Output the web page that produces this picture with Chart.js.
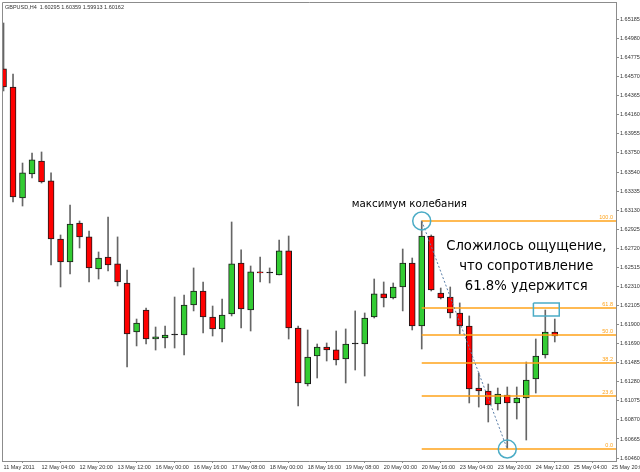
<!DOCTYPE html>
<html>
<head>
<meta charset="utf-8">
<script src="https://cdn.jsdelivr.net/npm/chart.js@4.4.1/dist/chart.umd.min.js"></script>
<style>
  html, body { margin: 0; padding: 0; background: #fff; }
</style>
</head>
<body>
<canvas id="grafico" width="640" height="472"></canvas>
<script>
// GBPUSD H4 - velas
const abertura = [1.64650, 1.64456, 1.63261, 1.63519, 1.63659, 1.63444, 1.62819, 1.62571, 1.62991, 1.62841,
  1.62496, 1.62625, 1.62550, 1.62345, 1.61817, 1.62054, 1.61742, 1.61753, 1.61785, 1.61785,
  1.62108, 1.62259, 1.61979, 1.61850, 1.62011, 1.62560, 1.62054, 1.62464, 1.62453, 1.62431,
  1.62690, 1.61860, 1.61257, 1.61559, 1.61656, 1.61624, 1.61527, 1.61688, 1.61688, 1.61979,
  1.62227, 1.62184, 1.62302, 1.62560, 1.61882, 1.62851, 1.62237, 1.62194, 1.62022, 1.61882,
  1.61214, 1.61182, 1.61042, 1.61139, 1.61053, 1.61106, 1.61311, 1.61570, 1.61817];
const maxima = [1.65145, 1.64596, 1.63637, 1.63745, 1.63756, 1.63530, 1.62862, 1.63185, 1.63013, 1.62905,
  1.62679, 1.63056, 1.62841, 1.62485, 1.61957, 1.62076, 1.61871, 1.61882, 1.62194, 1.62216,
  1.62507, 1.62356, 1.62097, 1.62173, 1.63002, 1.62701, 1.62528, 1.62625, 1.62507, 1.62808,
  1.62851, 1.61882, 1.61839, 1.61688, 1.61699, 1.61828, 1.61850, 1.62044, 1.62022, 1.62388,
  1.62356, 1.62345, 1.62711, 1.62614, 1.63013, 1.62862, 1.62291, 1.62302, 1.62130, 1.61990,
  1.61376, 1.61257, 1.61214, 1.61225, 1.61225, 1.61494, 1.61742, 1.62054, 1.61957];
const minimas = [1.64413, 1.63217, 1.63174, 1.63476, 1.63422, 1.62539, 1.62302, 1.62442, 1.62722, 1.62356,
  1.62388, 1.62474, 1.62313, 1.61440, 1.61667, 1.61688, 1.61623, 1.61645, 1.61645, 1.61570,
  1.62044, 1.61807, 1.61774, 1.61710, 1.61990, 1.61860, 1.61828, 1.62356, 1.62345, 1.62431,
  1.61742, 1.61020, 1.61236, 1.61322, 1.61505, 1.61462, 1.61268, 1.61408, 1.61343, 1.61968,
  1.62087, 1.62173, 1.62044, 1.61839, 1.61634, 1.62259, 1.62173, 1.61968, 1.61796, 1.61053,
  1.61009, 1.60848, 1.60977, 1.60560, 1.60880, 1.60654, 1.61160, 1.61537, 1.61710];
const fechamento = [1.64456, 1.63271, 1.63530, 1.63670, 1.63433, 1.62819, 1.62571, 1.62980, 1.62841, 1.62507,
  1.62614, 1.62539, 1.62356, 1.61796, 1.61914, 1.61742, 1.61764, 1.61785, 1.61785, 1.62108,
  1.62259, 1.61979, 1.61850, 1.62000, 1.62550, 1.62065, 1.62464, 1.62453, 1.62453, 1.62690,
  1.61860, 1.61268, 1.61548, 1.61656, 1.61624, 1.61516, 1.61688, 1.61688, 1.61968, 1.62227,
  1.62184, 1.62302, 1.62560, 1.61882, 1.62851, 1.62270, 1.62184, 1.62022, 1.61882, 1.61203,
  1.61182, 1.61031, 1.61150, 1.61053, 1.61106, 1.61300, 1.61559, 1.61817, 1.61774];

const rotulosTempo = ['11 May 2011', '12 May 04:00', '12 May 20:00', '13 May 12:00', '16 May 00:00',
  '16 May 16:00', '17 May 08:00', '18 May 00:00', '18 May 16:00', '19 May 08:00', '20 May 00:00',
  '20 May 16:00', '23 May 04:00', '23 May 20:00', '24 May 12:00', '25 May 04:00', '25 May 20:00'];

const rotulosPreco = [1.65185, 1.64980, 1.64775, 1.64570, 1.64365, 1.64160, 1.63955, 1.63750, 1.63540,
  1.63335, 1.63130, 1.62925, 1.62720, 1.62515, 1.62310, 1.62105, 1.61900, 1.61690, 1.61485, 1.61280,
  1.61075, 1.60870, 1.60665, 1.60460];

// fibonacci: do topo (vela 45) ao fundo (vela 54)
const fibNomes = ['100.0', '61.8', '50.0', '38.2', '23.6', '0.0'];
const fibPrecos = [1.63013, 1.62077, 1.61786, 1.61484, 1.61128, 1.60557];
const fibInicio = 44;
const topoOnda = { x: 44, y: 1.63013 };
const fundoOnda = { x: 53, y: 1.60557 };
const caixaX = [55.75, 58.47];
const caixaY = [1.62130, 1.61990];

const xMin = -0.16, xMax = 64.44;
const corVela = abertura.map((o, i) => fechamento[i] > o ? '#33cc33' : (fechamento[i] < o ? '#ff0000' : '#000000'));

const fibDatasets = fibPrecos.map(p => ({
  type: 'line',
  data: [{ x: fibInicio, y: p }, { x: xMax, y: p }],
  borderColor: '#ffa31a',
  borderWidth: 1.5,
  pointRadius: 0,
  order: 1
}));

const desenhos = {
  id: 'desenhos',
  afterDatasetsDraw(chart) {
    const c = chart.ctx, a = chart.chartArea, sx = chart.scales.x, sy = chart.scales.y;
    c.save();
    c.strokeStyle = '#8c8c8c';
    c.lineWidth = 1;
    c.beginPath();
    c.moveTo(a.left + 0.5, a.bottom);
    c.lineTo(a.left + 0.5, a.top + 0.5);
    c.lineTo(a.right, a.top + 0.5);
    c.stroke();

    c.font = '5.5px "Liberation Sans"';
    c.fillStyle = '#ffa31a';
    c.textAlign = 'right';
    c.textBaseline = 'bottom';
    fibPrecos.forEach((p, k) => c.fillText(fibNomes[k], a.right - 3, sy.getPixelForValue(p) - 1));

    c.fillStyle = '#333';
    c.textAlign = 'left';
    c.textBaseline = 'middle';
    c.fillText('GBPUSD,H4  1.60295 1.60359 1.59913 1.60162', 5, 7);

    c.fillStyle = '#000';
    c.textAlign = 'center';
    c.font = '10.3px "DejaVu Sans"';
    c.fillText('максимум колебания', sx.getPixelForValue(42.7), sy.getPixelForValue(1.63196));

    c.font = '13.2px "DejaVu Sans"';
    const cx = sx.getPixelForValue(55.0);
    c.fillText('Сложилось ощущение,', cx, sy.getPixelForValue(1.62733));
    c.fillText('что сопротивление', cx, sy.getPixelForValue(1.62517));
    c.fillText('61.8% удержится', cx, sy.getPixelForValue(1.62302));
    c.restore();
  }
};

const grafico = new Chart(document.getElementById('grafico'), {
  type: 'bar',
  data: {
    datasets: [
      {
        type: 'scatter',
        data: [topoOnda, fundoOnda],
        pointRadius: 9,
        pointBorderWidth: 1.5,
        pointBorderColor: '#4bacc6',
        pointBackgroundColor: 'rgba(0,0,0,0)',
        showLine: false,
        order: 0
      },
      {
        type: 'line',
        data: [topoOnda, fundoOnda],
        borderColor: '#5b7fa8',
        borderWidth: 1,
        borderDash: [2, 2],
        pointRadius: 0,
        order: 0
      },
      {
        type: 'line',
        data: [
          { x: caixaX[0], y: caixaY[0] }, { x: caixaX[1], y: caixaY[0] },
          { x: caixaX[1], y: caixaY[1] }, { x: caixaX[0], y: caixaY[1] },
          { x: caixaX[0], y: caixaY[0] }
        ],
        borderColor: '#4bacc6',
        borderWidth: 1.5,
        pointRadius: 0,
        order: 0
      },
      ...fibDatasets,
      {
        data: abertura.map((o, i) => ({ x: i, y: [o, fechamento[i]] })),
        backgroundColor: corVela,
        borderColor: '#1a1a1a',
        borderWidth: 1,
        borderSkipped: false,
        barThickness: 6,
        minBarLength: 1,
        grouped: false,
        order: 2
      },
      {
        data: minimas.map((l, i) => ({ x: i, y: [l, maxima[i]] })),
        backgroundColor: '#666',
        borderWidth: 0,
        barThickness: 1,
        grouped: false,
        order: 3
      }
    ]
  },
  options: {
    responsive: false,
    animation: false,
    layout: { autoPadding: false, padding: { left: 2, top: 2, right: 0, bottom: 0 } },
    plugins: { legend: { display: false }, tooltip: { enabled: false } },
    scales: {
      x: {
        type: 'linear',
        min: xMin,
        max: xMax,
        offset: false,
        grid: { drawOnChartArea: false, drawTicks: true, tickLength: 2, color: '#8c8c8c' },
        border: { display: true, color: '#8c8c8c' },
        afterBuildTicks: s => { s.ticks = rotulosTempo.map((_, k) => ({ value: k * 4 })); },
        afterFit: s => { s.height = 11; s.paddingLeft = 0; s.paddingRight = 0; },
        ticks: {
          autoSkip: false,
          maxRotation: 0,
          align: 'start',
          padding: 1,
          color: '#333',
          font: { family: 'Liberation Sans', size: 5.5 },
          callback: v => rotulosTempo[v / 4]
        }
      },
      y: {
        position: 'right',
        min: 1.60428,
        max: 1.65371,
        grid: { drawOnChartArea: false, drawTicks: true, tickLength: 3, color: '#8c8c8c' },
        border: { display: true, color: '#8c8c8c' },
        afterBuildTicks: s => { s.ticks = rotulosPreco.map(v => ({ value: v })); },
        afterFit: s => { s.width = 24; s.paddingTop = 0; s.paddingBottom = 0; },
        ticks: {
          autoSkip: false,
          padding: 1,
          color: '#333',
          font: { family: 'Liberation Sans', size: 5.5 },
          callback: v => v.toFixed(5)
        }
      }
    }
  },
  plugins: [desenhos]
});
</script>
</body>
</html>
